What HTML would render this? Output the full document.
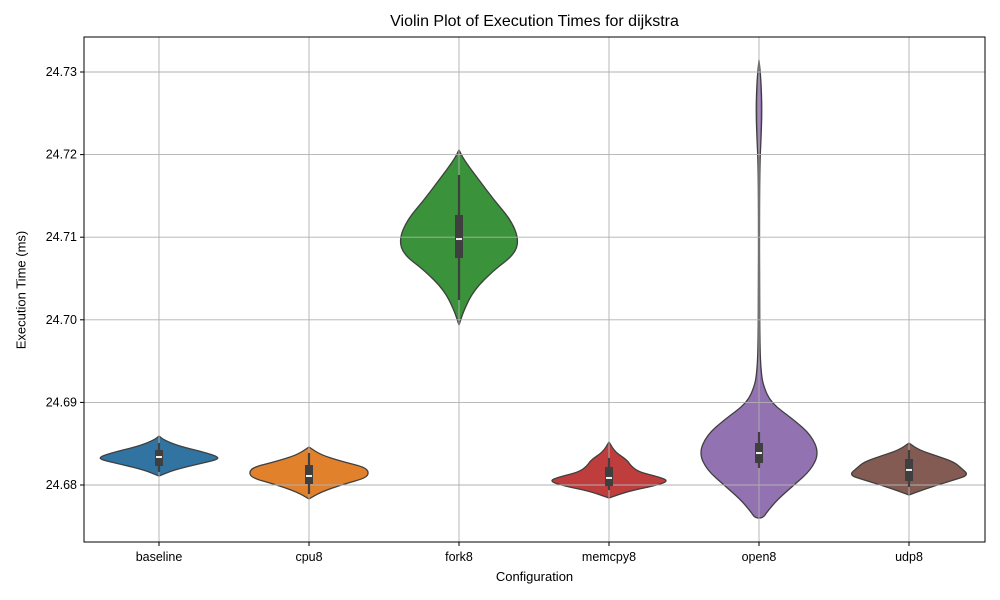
<!DOCTYPE html>
<html><head><meta charset="utf-8"><style>body{margin:0;background:#fff}svg{display:block;font-family:"Liberation Sans","DejaVu Sans",sans-serif}</style></head>
<body>
<svg id="chart" width="1000" height="600"></svg>
<script>
const categories=["baseline","cpu8","fork8","memcpy8","open8","udp8"];
const colors=["#3274a1","#e1812c","#3a923a","#c03d3e","#9372b2","#845b53"];
const yTicks=[24.68,24.69,24.70,24.71,24.72,24.73];
// density profiles: values (ms) and relative density
const profVals=[
[24.68593,24.68545,24.68472,24.68400,24.68339,24.68303,24.68254,24.68182,24.68109],
[24.68460,24.68363,24.68278,24.68218,24.68157,24.68085,24.68012,24.67915,24.67831],
[24.72056,24.71935,24.71693,24.71450,24.71208,24.70966,24.70785,24.70603,24.70361,24.70119,24.69937],
[24.68521,24.68400,24.68303,24.68230,24.68157,24.68097,24.68048,24.67988,24.67927,24.67843],
[24.73145,24.72903,24.72540,24.72177,24.71935,24.71450,24.70240,24.69634,24.69392,24.69211,24.68993,24.68787,24.68605,24.68387,24.68182,24.68000,24.67818,24.67673,24.67600],
[24.68508,24.68424,24.68351,24.68278,24.68206,24.68121,24.68061,24.67988,24.67915,24.67879]];
const profDens=[
[0,5,20,45,61,58,40,15,0],
[0,12,35,55,60,57,35,12,0],
[0,5,20,35,52,60,55,35,15,5,0],
[0,6,18,22,30,50,60,45,20,0],
[0,2,3,2,1,0.5,0.5,1,2,4,12,35,52,60,52,35,18,8,4],
[0,10,28,45,52,60,45,25,8,0]];
const whiskLo=[24.68157,24.67891,24.70240,24.67939,24.68206,24.67976];
const q1s=[24.68230,24.68012,24.70748,24.67988,24.68266,24.68048];
const medians=[24.68339,24.68109,24.70978,24.68085,24.68387,24.68182];
const q3s=[24.68424,24.68242,24.71269,24.68218,24.68508,24.68315];
const whiskHi=[24.68508,24.68387,24.71753,24.68327,24.68642,24.68424];

const L=84,R=985,T=37,B=542;
const yS=v=>485-(v-24.68)*8260;
const xS=i=>159+i*150;
const NS="http://www.w3.org/2000/svg";
const svg=document.getElementById('chart');
function mk(t,a,p){const e=document.createElementNS(NS,t);for(const k in a)e.setAttribute(k,a[k]);(p||svg).appendChild(e);return e;}

// violins
categories.forEach((c,i)=>{
  const v=profVals[i],d=profDens[i],mx=Math.max(...d),cx=xS(i);
  let pts=[];
  for(let j=0;j<v.length;j++)pts.push([cx+d[j]/mx*60,yS(v[j])]);
  for(let j=v.length-1;j>=0;j--)pts.push([cx-d[j]/mx*60,yS(v[j])]);
  let s="M"+pts[0][0]+","+pts[0][1];
  for(let j=1;j<pts.length;j++){const p0=pts[j-1],p1=pts[j];const my=(p0[1]+p1[1])/2;s+=" Q"+p0[0]+","+p0[1]+" "+((p0[0]+p1[0])/2)+","+my;}
  s+=" L"+pts[pts.length-1][0]+","+pts[pts.length-1][1]+"Z";
  const p=mk('path',{d:s,fill:colors[i],stroke:'#3f3f3f','stroke-width':1.3,'stroke-linejoin':'round'});
  
  
});
// grid on top
yTicks.forEach(t=>{const g=mk('line',{x1:L,x2:R,y1:yS(t),y2:yS(t),stroke:'#b0b0b0','stroke-width':0.9});
});
categories.forEach((c,i)=>{const g=mk('line',{x1:xS(i),x2:xS(i),y1:T,y2:B,stroke:'#b0b0b0','stroke-width':0.9});
});
// boxes
categories.forEach((c,i)=>{
  const cx=xS(i);
  const w=mk('line',{x1:cx,x2:cx,y1:yS(whiskLo[i]),y2:yS(whiskHi[i]),stroke:'#3f3f3f','stroke-width':2.2});
  
  const b=mk('rect',{x:cx-4,y:yS(q3s[i]),width:8,height:yS(q1s[i])-yS(q3s[i]),fill:'#3f3f3f'});
  
  const m=mk('line',{x1:cx-3,x2:cx+3,y1:yS(medians[i]),y2:yS(medians[i]),stroke:'#f0f0f0','stroke-width':2});
  
});
// axes frame
const f=mk('rect',{x:L,y:T,width:R-L,height:B-T,fill:'none',stroke:'#000','stroke-width':1});

yTicks.forEach(t=>{const y=yS(t);mk('line',{x1:L-4,x2:L,y1:y,y2:y,stroke:'#000'});
const tx=mk('text',{x:L-7,y:y+4,'text-anchor':'end','font-size':12.5});tx.textContent=t.toFixed(2);
});
categories.forEach((c,i)=>{const x=xS(i);mk('line',{x1:x,x2:x,y1:B,y2:B+4,stroke:'#000'});
const tx=mk('text',{x:x,y:561,'text-anchor':'middle','font-size':12.5});tx.textContent=c;
});
</script>
<svg width="0" height="0"></svg>
<div style="position:absolute;left:0;top:0;width:1000px;height:600px;pointer-events:none;font-family:'Liberation Sans','DejaVu Sans',sans-serif">
<div style="position:absolute;left:84px;width:901px;top:13px;text-align:center;font-size:16px">Violin Plot of Execution Times for dijkstra</div>
<div style="position:absolute;left:84px;width:901px;top:569px;text-align:center;font-size:13px">Configuration</div>
<div style="position:absolute;left:21px;top:290px;font-size:13px;transform:translate(-50%,-50%) rotate(-90deg);white-space:nowrap">Execution Time (ms)</div>
</div>
</body></html>
